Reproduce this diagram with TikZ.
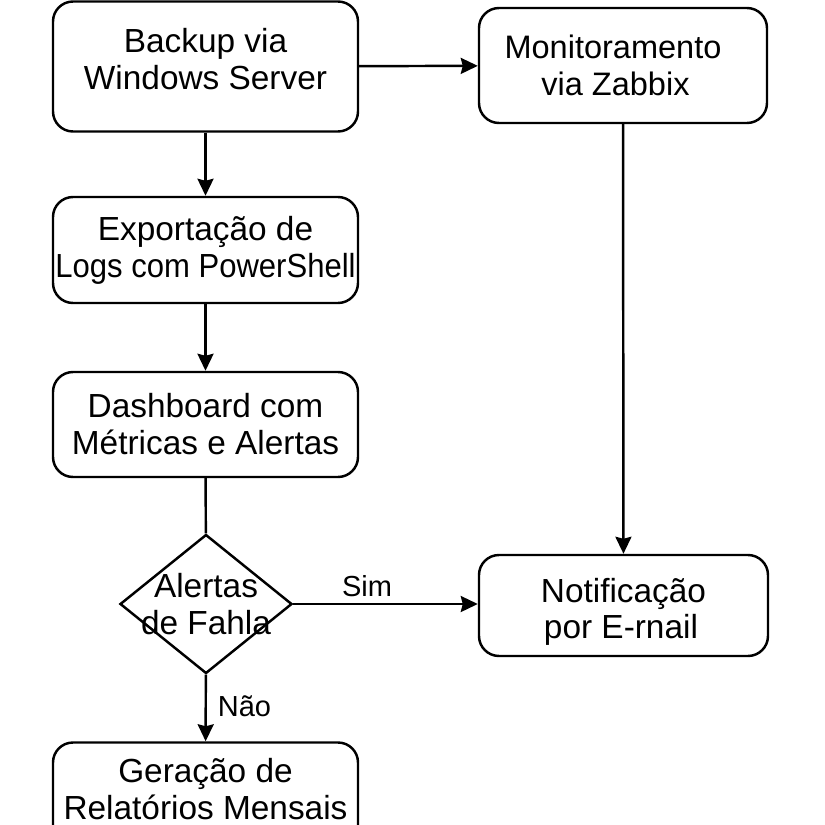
\documentclass[tikz,border=0pt]{standalone}
\usepackage{fontspec}
\setmainfont{Liberation Sans}
\usetikzlibrary{arrows.meta,shapes.geometric}

\tikzset{
  box/.style={draw, line width=1.4pt, rounded corners=0.4cm, align=center,
    minimum width=6.1cm, inner sep=0pt,
    font=\fontsize{19}{21}\selectfont},
  decision/.style={draw, line width=1.4pt, diamond, inner sep=0pt,
    minimum width=3.44cm, minimum height=2.78cm},
  flow/.style={line width=1.4pt, -{Stealth[length=0.34cm,width=0.32cm,inset=0.04cm]}},
  lbl/.style={font=\fontsize{16.5}{18}\selectfont}
}

\begin{document}
\begin{tikzpicture}
    \useasboundingbox (0,0) rectangle (16.5,-16.5);
    % left column
    \node[box, minimum height=2.6cm] (backup) at (4.11,-1.33) {Backup via\\Windows Server\\[-0.45cm]\mbox{}};
    \node[box, minimum height=2.12cm] (export) at (4.11,-5.0) {Exportação de\\{\addfontfeatures{FakeStretch=0.93}Logs com PowerShell}};
    \node[box, minimum height=2.1cm] (dash) at (4.11,-8.49) {Dashboard com\\Métricas e Alertas};
    \node[decision] (fahla) at (4.12,-12.08) {};
    \node[font=\fontsize{19}{21}\selectfont, align=center] (fahlatxt) at (fahla) {Alertas\\de Fahla};
    \node[box, minimum height=2.1cm] (relat) at (4.11,-15.9) {Geração de\\Relatórios Mensais\\[-0.5cm]\mbox{}};
    % right column
    \node[box, minimum width=5.76cm, minimum height=2.3cm, font=\fontsize{18.5}{21}\selectfont] (zabbix) at (12.46,-1.31) {Monitoramento\hspace*{0.4cm}\\via Zabbix\hspace*{0.3cm}};
    \node[box, minimum width=5.78cm, minimum height=2.02cm] (email) at (12.47,-12.11) {\mbox{}\\Notificação\hspace*{0.3cm}\\por E-rnail\hspace*{0.1cm}};
    % connectors
    \draw[flow] (backup) -- (zabbix);
    \draw[flow] (backup) -- (export);
    \draw[flow] (export) -- (dash);
    \draw[line width=1.4pt] (dash) -- (fahla);
    \draw[flow] (zabbix) -- (email);
    \draw[flow] (fahla.east) -- (email.west |- fahla.east) node[lbl, pos=0.4, above] {Sim};
    \draw[flow] (fahla) -- (relat) node[lbl, pos=0.47, right, xshift=0.1cm] {Não};
\end{tikzpicture}
\end{document}
